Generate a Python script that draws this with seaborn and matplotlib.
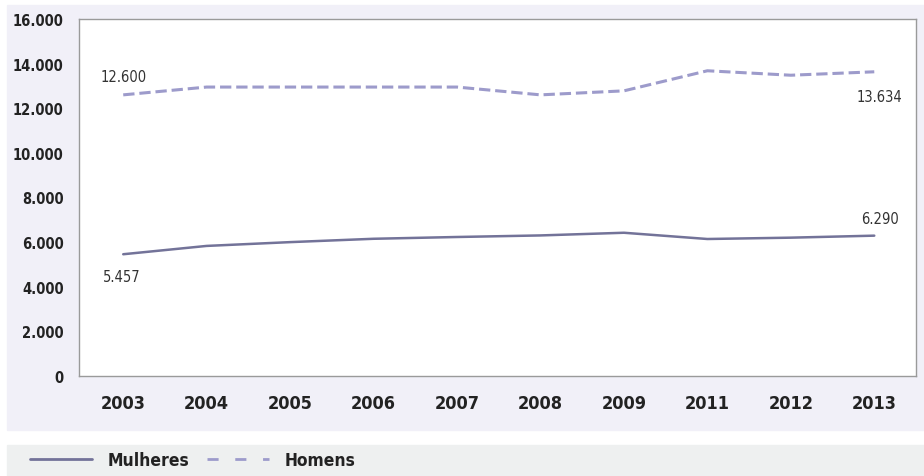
import pandas as pd
import matplotlib.pyplot as plt
import seaborn as sns
from matplotlib.patches import Rectangle
from matplotlib.lines import Line2D
from matplotlib.ticker import FuncFormatter

# dados
anos = ['2003', '2004', '2005', '2006', '2007', '2008', '2009', '2011', '2012', '2013']
mulheres = [5457, 5830, 6000, 6150, 6230, 6300, 6420, 6140, 6200, 6290]
homens = [12600, 12950, 12950, 12950, 12950, 12600, 12780, 13680, 13480, 13634]

cor_mulheres = '#737399'
cor_homens = '#9d9bcb'

sns.set_style('white')
plt.rcParams['font.family'] = ['DejaVu Sans']
plt.rcParams['font.stretch'] = 'condensed'

df = pd.DataFrame({'ano': anos, 'Mulheres': mulheres, 'Homens': homens})
df['x'] = range(len(anos))

fig = plt.figure(figsize=(9.24, 4.77), dpi=100)

# fundos
fig.patches.append(Rectangle((7 / 924, 1 - 431 / 477), 917 / 924, 425 / 477,
                             transform=fig.transFigure, color='#f1f0f8', zorder=-5))
fig.patches.append(Rectangle((7 / 924, 0), 917 / 924, 31 / 477,
                             transform=fig.transFigure, color='#eef0f0', zorder=-5))

ax = fig.add_axes([79 / 924, 1 - 377 / 477, 837 / 924, 357 / 477])
ax.set_facecolor('white')

sns.lineplot(data=df, x='x', y='Mulheres', ax=ax, color=cor_mulheres, linewidth=1.8)
sns.lineplot(data=df, x='x', y='Homens', ax=ax, color=cor_homens, linewidth=2.2,
             dashes=(5, 3.5), linestyle='--')

ax.set_xlim(-0.53, 9.5)
ax.set_ylim(0, 16000)
ax.set_yticks(range(0, 16001, 2000))
ax.yaxis.set_major_formatter(FuncFormatter(lambda v, p: f'{int(v):,}'.replace(',', '.')))
ax.set_xticks(df['x'])
ax.set_xticklabels(anos)
ax.set_xlabel('')
ax.set_ylabel('')

for s in ax.spines.values():
    s.set_color('#9a9a9a')
    s.set_linewidth(1.0)

ax.tick_params(axis='y', length=0, pad=11, labelsize=10.5, labelcolor='#222222')
ax.tick_params(axis='x', length=0, pad=13, labelsize=13, labelcolor='#222222')
for lab in ax.get_yticklabels() + ax.get_xticklabels():
    lab.set_fontweight('bold')

# rótulos
def fmt(v):
    return f'{v:,}'.replace(',', '.')

rotulos = [(0, homens[0], 0, 13.5), (0, mulheres[0], -1, -16),
           (9, homens[-1], 4, -18), (9, mulheres[-1], 4, 12)]
for x, v, dx, dy in rotulos:
    ax.annotate(fmt(v), (x, v), xytext=(dx, dy), textcoords='offset points',
                ha='center', va='center', fontsize=10.5, color='#333333')

# legenda
handles = [Line2D([], [], color=cor_mulheres, linewidth=2),
           Line2D([], [], color=cor_homens, linewidth=2, linestyle=(0, (4, 6)))]
leg = fig.legend(handles, ['Mulheres', 'Homens'], loc='center left',
                 bbox_to_anchor=(14 / 924, 15.5 / 477), ncol=2, frameon=False,
                 handlelength=3.6, handletextpad=0.9, columnspacing=1.0,
                 prop={'weight': 'bold', 'size': 12.5, 'stretch': 'condensed'})
for t in leg.get_texts():
    t.set_color('#222222')

fig.savefig('out.png', dpi=100)
